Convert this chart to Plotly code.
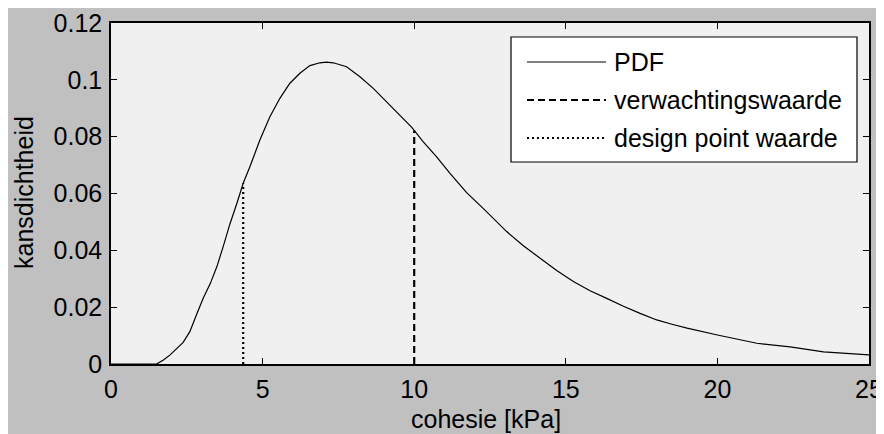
import plotly.graph_objects as go

# PDF values
cohesie = [0, 1.5, 1.73, 1.95, 2.38, 2.6, 2.83, 3.04, 3.27, 3.49, 3.70, 3.92, 4.15, 4.36,
           4.58, 4.91, 5.24, 5.57, 5.90, 6.23, 6.56, 6.89, 7.1, 7.33, 7.77, 8.21, 8.65,
           9.09, 9.53, 9.92, 10.30, 10.74, 11.18, 11.73, 12.3, 12.83, 13.05, 13.6, 14.15,
           14.7, 15.25, 15.8, 16.35, 16.9, 17.45, 18.0, 18.5, 19.0, 20.0, 21.3, 22.4,
           23.5, 25.0]
pdf = [0, 0, 0.0014, 0.0032, 0.0076, 0.0114, 0.0176, 0.0231, 0.0282, 0.0342, 0.0413,
       0.0492, 0.0565, 0.0636, 0.0694, 0.0788, 0.0870, 0.0935, 0.0988, 0.1023, 0.1050,
       0.1060, 0.1062, 0.1060, 0.1046, 0.1011, 0.0970, 0.0923, 0.0876, 0.0833, 0.0782,
       0.0729, 0.0671, 0.0603, 0.0545, 0.0489, 0.0466, 0.0416, 0.0372, 0.0329, 0.0290,
       0.0258, 0.0231, 0.0203, 0.0178, 0.0155, 0.0140, 0.0126, 0.0102, 0.0073, 0.0060,
       0.0043, 0.0032]

verwachting_x = [10.0, 10.0]
verwachting_y = [0, 0.0822]
design_x = [4.36, 4.36]
design_y = [0, 0.0636]

x_ticks = [0, 5, 10, 15, 20, 25]
y_ticks = [0, 0.02, 0.04, 0.06, 0.08, 0.1, 0.12]
y_ticklabels = ["0", "0.02", "0.04", "0.06", "0.08", "0.1", "0.12"]

legend_labels = ["PDF", "verwachtingswaarde", "design point waarde"]
x_title = "cohesie [kPa]"
y_title = "kansdichtheid"

FONT = "Liberation Sans, Arial, sans-serif"
FS = 25

fig = go.Figure()
fig.add_trace(go.Scatter(x=cohesie, y=pdf, mode="lines",
                         line=dict(color="black", width=1.2), name=legend_labels[0]))
fig.add_trace(go.Scatter(x=verwachting_x, y=verwachting_y, mode="lines",
                         line=dict(color="black", width=2.2, dash="7px,4px"), name=legend_labels[1]))
fig.add_trace(go.Scatter(x=design_x, y=design_y, mode="lines",
                         line=dict(color="black", width=2.2, dash="2px,3px"), name=legend_labels[2]))

W, H = 884, 434
OFF = 8  # page body offset in the browser
# plot-area edges in screen pixels
SL, SR, ST, SB = 111, 869, 23, 364
ml, mt = SL - OFF, ST - OFF
mr, mb = W - (SR - OFF), H - (SB - OFF)

def px2paper(x, y):
    return (x - SL) / (SR - SL), 1 - (y - ST) / (SB - ST)

# custom MATLAB-like legend
shapes = []
x0, y0 = px2paper(511, 37)
x1, y1 = px2paper(857, 162)
shapes.append(dict(type="rect", xref="paper", yref="paper", x0=x0, y0=y1, x1=x1, y1=y0,
                   fillcolor="white", line=dict(color="black", width=1.2), layer="above"))
rows = [62, 100, 138]
styles = [dict(width=1.2, dash="solid"), dict(width=2.2, dash="7px,4px"), dict(width=2.2, dash="2px,3px")]
annotations = []
for ry, st, lab in zip(rows, styles, legend_labels):
    lx0, ly = px2paper(527, ry)
    lx1, _ = px2paper(606, ry)
    shapes.append(dict(type="line", xref="paper", yref="paper", x0=lx0, x1=lx1, y0=ly, y1=ly,
                       line=dict(color="black", **st), layer="above"))
    tx, _ = px2paper(612, ry)
    annotations.append(dict(xref="paper", yref="paper", x=tx, y=ly, text=lab, showarrow=False,
                            xanchor="left", yanchor="middle",
                            font=dict(family=FONT, size=FS, color="black")))

# axis titles
tx, ty = px2paper(486, 419)
annotations.append(dict(xref="paper", yref="paper", x=tx, y=ty, text=x_title, showarrow=False,
                        xanchor="center", yanchor="middle", font=dict(family=FONT, size=FS)))
tx, ty = px2paper(24, 193)
annotations.append(dict(xref="paper", yref="paper", x=tx, y=ty, text=y_title, showarrow=False,
                        textangle=-90, xanchor="center", yanchor="middle",
                        font=dict(family=FONT, size=FS)))

fig.update_layout(
    width=W, height=H,
    margin=dict(l=ml, r=mr, t=mt, b=mb, autoexpand=False),
    paper_bgcolor="#c0c0c0", plot_bgcolor="#f0f0f0",
    showlegend=False,
    font=dict(family=FONT, size=FS, color="black"),
    shapes=shapes, annotations=annotations,
    xaxis=dict(range=[0, 25], tickvals=x_ticks, ticks="inside", ticklen=6, tickcolor="black",
               showline=True, linecolor="black", linewidth=1.5, mirror="ticks",
               showgrid=False, zeroline=False, automargin=False, ticklabelstandoff=2),
    yaxis=dict(range=[0, 0.12], tickvals=y_ticks, ticktext=y_ticklabels, ticks="inside",
               ticklen=6, tickcolor="black",
               showline=True, linecolor="black", linewidth=1.5, mirror="ticks",
               showgrid=False, zeroline=False, automargin=False, ticklabelstandoff=2),
)

fig.write_html("out.html")
